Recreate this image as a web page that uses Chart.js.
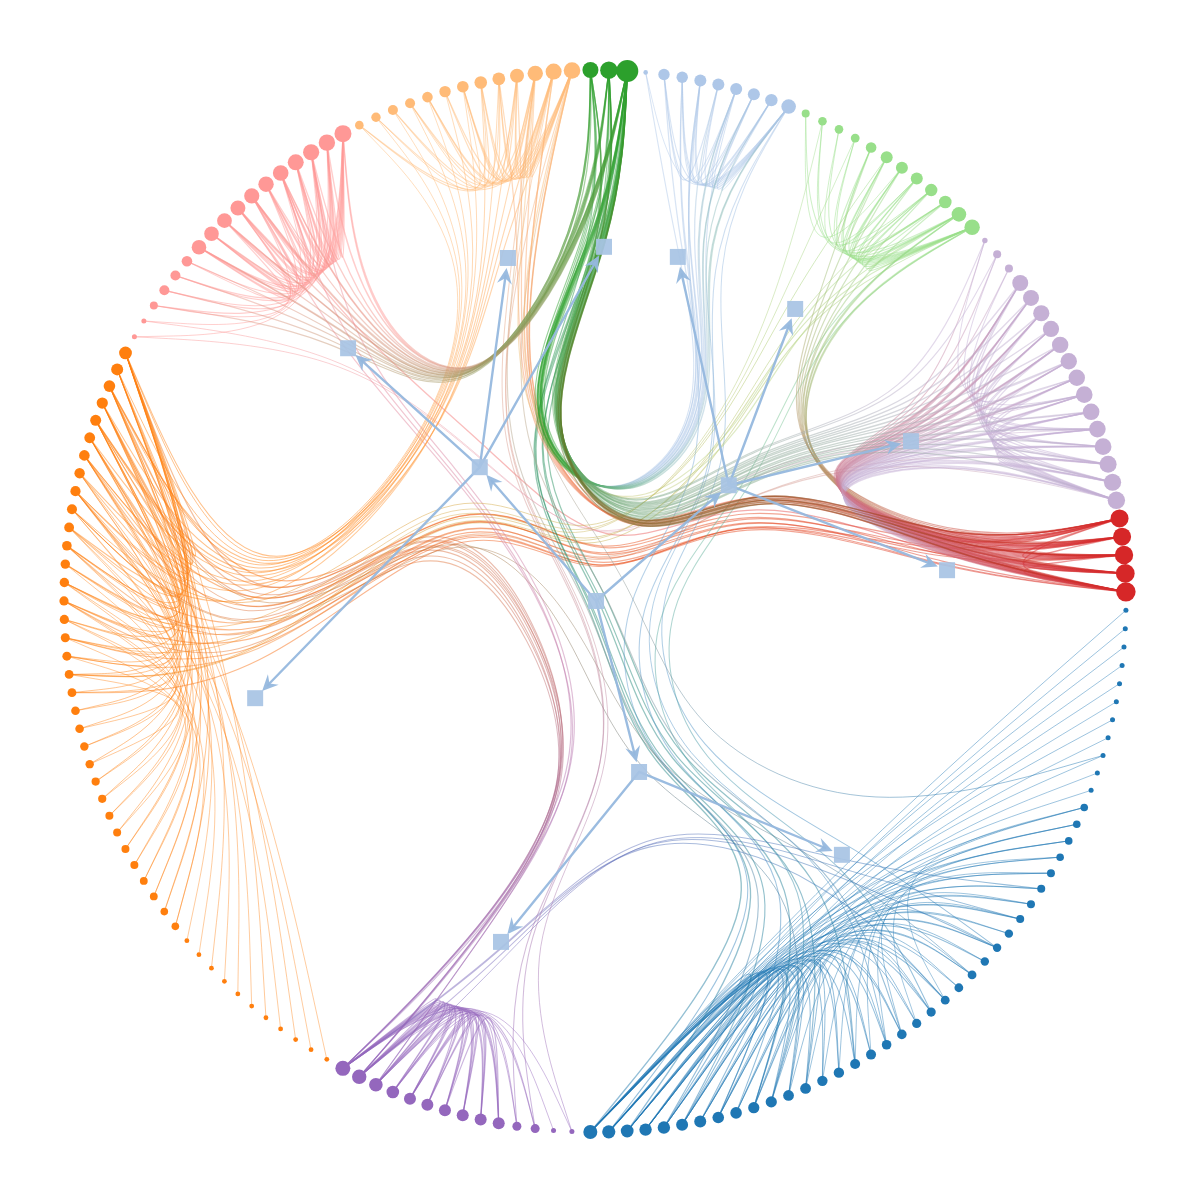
<!DOCTYPE html>
<html><head><meta charset="utf-8">
<script src="https://cdn.jsdelivr.net/npm/chart.js@4.4.1/dist/chart.umd.min.js"></script>
<style>html,body{margin:0;padding:0;background:#fff}#wrap{width:1196px;height:1200px}</style>
</head><body><div id="wrap"><canvas id="c" width="1196" height="1200"></canvas></div>
<script>
// ---------- groups (clockwise from angle ~1deg) ----------
const groupNames  = ['blue','purple','orange','pink','lightorange','green','lightblue','lightgreen','lightpurple','red'];
const groupColors = ['#1f77b4','#9467bd','#ff7f0e','#ff9896','#ffbb78','#2ca02c','#aec7e8','#98df8a','#c5b0d5','#d62728'];
// node sizes (radius, px) in clockwise order within each group
const sizesBlue = [2.5,2.5,2.5,2.5,2.5,2.5,2.5,2.5,2.5,2.5,2.5,3.8,3.8,3.8,3.8,4,4,4,4,4.2,4.2,4.2,4.4,4.4,4.4,4.6,4.6,4.8,4.8,5,5,5.2,5.2,5.4,5.4,5.6,5.6,5.8,5.8,6,6,6.2,6.2,6.4,6.6,7];
const sizesPurple = [2.5,2.5,4.5,4.5,6,6,6,6,6,6,6.3,6.8,7.2,7.5];
const sizesOrange = [2.4,2.4,2.4,2.4,2.4,2.4,2.4,2.4,2.4,2.4,2.4,3.8,3.8,3.9,3.9,4,4,4,4,4.1,4.1,4.2,4.2,4.3,4.3,4.4,4.4,4.5,4.5,4.6,4.6,4.7,4.7,4.8,4.9,5,5.1,5.2,5.3,5.4,5.5,5.6,5.8,6,6.4];
const sizesPink = [2.5,2.5,4,5,5,5.3,7.3,7.3,7.4,7.5,7.6,7.7,7.8,8,8.1,8.2,8.5];
const sizesLightOrange = [4.3,4.7,5,5,5.3,5.7,5.8,6.3,6.4,7,7.7,8,8.3];
const sizesGreen = [8,8.7,11];
const sizesLightBlue = [2.3,5.7,5.7,6,6,6,6,6.2,7.3];
const sizesLightGreen = [4,4.3,4.3,4.4,5.3,6,6,6,6.2,6.3,7.3,7.7];
const sizesLightPurple = [2.7,4,4,8,8,8.1,8.1,8.2,8.2,8.2,8.3,8.3,8.3,8.4,8.5,8.6,8.7];
const sizesRed = [9,9,9.2,9.4,9.7];
const groupSizes = [sizesBlue,sizesPurple,sizesOrange,sizesPink,sizesLightOrange,sizesGreen,sizesLightBlue,sizesLightGreen,sizesLightPurple,sizesRed];
const startAngleDeg = 1.0;

// ---------- hub (square) nodes, unit-circle coordinates, y downward ----------
const hubX = [0.002,-0.217,0.252,0.083,-0.465,-0.164,0.017,-0.640,0.156,0.377,0.595,0.663,0.465,-0.177];
const hubY = [0.000,-0.252,-0.218,0.322,-0.476,-0.646,-0.667,0.183,-0.648,-0.550,-0.301,-0.058,0.478,0.642];
const hubParent = [-1,0,0,0,1,1,1,1,2,2,2,2,3,3];
const groupHub = [12,13,7,4,5,6,8,9,10,11];

// ---------- links (local node indices) ----------
const linksBlue = [[0,45],[1,44],[2,45],[3,43],[4,44],[5,42],[6,45],[7,41],[8,43],[9,40],[10,44],
 [11,45],[11,39],[12,44],[12,38],[13,45],[13,42],[14,43],[14,37],[15,45],[15,41],[16,44],[16,40],[17,42],[17,36],[18,45],[18,39],[19,43],[19,38],[20,44],[20,41],[21,45],[21,37],[22,42],[22,40],[23,43],[23,36],[24,45],[24,39],[25,44],[25,38],[26,41],[26,35],[27,45],[27,42],[28,43],[28,37],[29,44],[29,40],[30,45],[30,36],[31,42],[31,39],[32,43],[32,38],[33,44],[33,35],[34,45],[34,41],
 [12,30],[15,28],[18,33],[20,27],[22,31],[25,34],[14,26],[17,29],[11,24],[13,32],
 [35,45],[36,44],[37,43],[38,45],[39,42],[40,44],[41,45],[35,40],[36,42]];
const linksPurple = [[0,12],[1,13],[2,11],[2,13],[3,12],[3,10],[4,13],[4,11],[4,9],[5,12],[5,10],[5,8],[6,13],[6,11],[6,9],[7,12],[7,10],[7,13],[8,11],[8,13],[9,12],[9,13],[10,13],[10,12],[11,13],[11,12],[12,13],[4,7],[5,9],[6,8],[7,9],[8,10],[9,11],[4,12],[5,13],[6,12]];
const linksOrange = [[0,40],[1,38],[2,42],[3,36],[4,44],[5,39],[6,41],[7,37],[8,43],[9,35],[10,40],
 [11,30],[11,42],[12,28],[12,44],[13,33],[13,40],[14,31],[14,43],[15,29],[15,38],[16,34],[16,44],[17,27],[17,41],[18,32],[18,39],[19,30],[19,43],[20,35],[20,42],[21,26],[21,44],[22,37],[22,33],[23,40],[23,29],[24,43],[24,36],[25,41],[25,31],[26,44],[26,38],[27,39],[27,34],[28,42],[28,36],[29,44],[30,40],[31,43],[32,37],[33,41],[34,44],[35,42],[36,39],[37,43],[38,44],[39,41],[40,44],[41,43],[42,44],[30,36],[31,38],[32,40],[33,44],[34,39],[35,41]];
const linksPink = [[0,14],[1,12],[2,16],[2,10],[3,15],[3,11],[4,13],[4,16],[5,14],[5,9],[6,16],[6,12],[6,14],[7,15],[7,11],[7,13],[8,16],[8,14],[8,10],[9,15],[9,12],[9,16],[10,13],[10,15],[10,16],[11,14],[11,16],[12,15],[12,16],[13,16],[13,15],[14,16],[15,16],[6,9],[7,10],[8,12],[9,11],[11,13],[12,14],[13,14],[14,15],[6,8],[7,9]];
const linksLightOrange = [[0,9],[0,12],[1,10],[1,7],[2,11],[2,8],[3,12],[3,9],[4,10],[4,11],[5,12],[5,8],[6,11],[6,9],[7,12],[7,10],[8,11],[8,12],[9,12],[10,12],[11,12],[9,11],[10,11],[6,10],[4,7],[3,6]];
const linksLightBlue = [[0,8],[1,8],[1,5],[2,8],[2,6],[3,8],[3,7],[4,8],[4,6],[5,8],[5,7],[6,8],[7,8],[1,4],[2,7],[3,5],[6,7]];
const linksLightGreen = [[0,11],[0,6],[1,10],[1,8],[2,11],[2,7],[3,9],[3,11],[4,10],[4,11],[5,11],[5,9],[6,10],[6,11],[7,11],[7,10],[8,11],[8,10],[9,11],[10,11],[5,8],[6,9],[4,7]];
const linksLightPurple = [[0,10],[1,12],[2,14],[3,16],[3,12],[4,15],[4,10],[5,16],[5,13],[6,14],[6,11],[7,16],[7,12],[8,15],[8,13],[9,16],[9,14],[10,15],[10,16],[11,14],[11,16],[12,15],[12,16],[13,16],[14,16],[15,16],[3,8],[4,9],[5,10],[6,12],[7,13]];
const linksRed = [[0,4],[1,3],[0,2],[2,4]];
const linksPinkGreen = [[2,2],[3,1],[4,2],[5,0],[6,2],[7,1],[8,2],[9,0],[10,2],[11,1],[12,2],[13,2],[14,1],[15,2],[16,0],[16,2],[12,1],[10,0],[8,1],[6,0]];
const linksGreenLightPurple = [[2,3],[2,4],[2,5],[1,6],[2,7],[2,8],[0,9],[2,10],[1,11],[2,12],[2,13],[0,14],[2,15],[1,16],[2,0],[1,1]];
const linksGreenRed = [[2,0],[2,1],[1,2],[2,3],[0,4],[2,4],[1,0],[2,2]];
const linksLightBlueGreen = [[0,2],[1,2],[2,2],[3,1],[4,2],[5,0],[6,2],[7,1],[8,2],[8,0],[5,2],[3,2],[6,1],[2,0]];
const linksLightOrangeOrange = [[0,44],[1,42],[2,40],[3,43],[4,38],[5,41],[6,36],[7,44],[8,39],[9,42],[10,34],[11,37],[12,40]];
const linksLightOrangeRed = [[8,0],[9,1],[10,2],[11,3],[12,4],[12,0],[11,2]];
const linksLightOrangeLightGreen = [[10,9],[12,11]];
const linksLightGreenRed = [[4,0],[5,1],[6,2],[7,3],[8,4],[9,0],[10,1],[11,2],[11,4],[10,3]];
const linksLightGreenOrange = [[1,28],[3,31],[5,35],[8,26]];
const linksLightPurpleRed = [[3,0],[3,2],[3,4],[4,1],[4,3],[4,4],[5,0],[5,2],[5,4],[6,1],[6,3],[6,4],[7,0],[7,2],[7,4],[8,1],[8,3],[8,4],[9,0],[9,2],[9,4],[10,1],[10,3],[10,4],[11,0],[11,2],[11,4],[12,1],[12,3],[12,4],[13,0],[13,2],[13,4],[14,1],[14,3],[14,4],[15,0],[15,2],[15,4],[16,1],[16,3],[16,4],[0,4],[1,3],[2,2],[3,1],[5,3],[7,1],[9,3],[11,3]];
const linksRedOrange = [[0,40],[1,36],[2,33],[3,42],[4,38],[4,30]];
const linksRedPink = [[4,10]];
const linksOrangePurple = [[30,13],[33,12],[36,13],[39,11],[41,13],[42,12],[44,13],[38,12]];
const linksOrangeRed = [[25,0],[28,2],[32,4]];
const linksOrangeLightPurple = [[27,14],[31,16]];
const linksOrangeLightGreen = [[29,10],[26,11]];
const linksBlueGreen = [[30,2],[33,1],[36,2],[40,0],[43,2],[45,2]];
const linksBlueLightBlue = [[20,8],[28,5],[38,8],[44,3]];
const linksBlueLightGreen = [[25,11],[35,10]];
const linksBlueLightOrange = [[27,12],[41,10],[8,12]];
const linksBlueOrange = [[22,35],[34,40]];
const linksPurpleBlue = [[12,20],[13,24],[11,18],[13,16]];
const linksPurplePink = [[13,12],[12,14],[11,10]];
const linksPurpleLightOrange = [[2,10],[3,12],[0,11]];
const linksPinkLightPurple = [[0,10],[1,12]];

// [source group, target group, links]
const bundles = [
 [0,0,linksBlue],[1,1,linksPurple],[2,2,linksOrange],[3,3,linksPink],[4,4,linksLightOrange],
 [6,6,linksLightBlue],[7,7,linksLightGreen],[8,8,linksLightPurple],[9,9,linksRed],
 [2,1,linksOrangePurple],[2,9,linksOrangeRed],[2,8,linksOrangeLightPurple],[2,7,linksOrangeLightGreen],
 [9,2,linksRedOrange],[9,3,linksRedPink],
 [0,5,linksBlueGreen],[0,6,linksBlueLightBlue],[0,7,linksBlueLightGreen],[0,4,linksBlueLightOrange],[0,2,linksBlueOrange],
 [1,0,linksPurpleBlue],[1,3,linksPurplePink],[1,4,linksPurpleLightOrange],[3,8,linksPinkLightPurple],
 [4,2,linksLightOrangeOrange],[4,9,linksLightOrangeRed],[4,7,linksLightOrangeLightGreen],
 [7,9,linksLightGreenRed],[7,2,linksLightGreenOrange],
 [6,5,linksLightBlueGreen],[3,5,linksPinkGreen],
 [8,9,linksLightPurpleRed],[5,8,linksGreenLightPurple],[5,9,linksGreenRed]
];

// ---------- layout helpers ----------
const nTotal = groupSizes.reduce((a,s)=>a+s.length,0);
const groupOffset = []; { let o=0; for (const s of groupSizes){ groupOffset.push(o); o+=s.length; } }
function nodeUnit(g,i){
  const a = (startAngleDeg + (groupOffset[g]+i)*360/nTotal)*Math.PI/180;
  return {x:Math.cos(a), y:Math.sin(a)};
}
function ancestors(h){ const r=[h]; while(hubParent[r[r.length-1]]>=0) r.push(hubParent[r[r.length-1]]); return r; }
function hubPath(a,b){
  if (a===b) return [a];
  const A=ancestors(a), B=ancestors(b);
  let lca = A.find(h=>B.includes(h));
  const up = A.slice(0, A.indexOf(lca)+1);
  const down = B.slice(0, B.indexOf(lca)).reverse();
  return up.concat(down);
}
function rgba(hex,a){ const n=parseInt(hex.slice(1),16); return `rgba(${n>>16},${(n>>8)&255},${n&255},${a})`; }

const BETA = 0.85;
function traceBundle(ctx, pts){
  const n = pts.length-1;
  const x0=pts[0][0], y0=pts[0][1], dx=pts[n][0]-x0, dy=pts[n][1]-y0;
  const q = pts.map((p,i)=>{ const t=i/n; return [BETA*p[0]+(1-BETA)*(x0+t*dx), BETA*p[1]+(1-BETA)*(y0+t*dy)]; });
  ctx.beginPath();
  ctx.moveTo(q[0][0],q[0][1]);
  ctx.lineTo((5*q[0][0]+q[1][0])/6,(5*q[0][1]+q[1][1])/6);
  for (let k=2;k<q.length;k++){
    const a=q[k-2], b=q[k-1], c=q[k];
    ctx.bezierCurveTo((2*a[0]+b[0])/3,(2*a[1]+b[1])/3,(a[0]+2*b[0])/3,(a[1]+2*b[1])/3,(a[0]+4*b[0]+c[0])/6,(a[1]+4*b[1]+c[1])/6);
  }
  const a=q[n-1], b=q[n];
  ctx.bezierCurveTo((2*a[0]+b[0])/3,(2*a[1]+b[1])/3,(a[0]+2*b[0])/3,(a[1]+2*b[1])/3,(a[0]+5*b[0])/6,(a[1]+5*b[1])/6);
  ctx.lineTo(b[0],b[1]);
}

const HUB_DS = 0;
const edgePlugin = {
  id:'edgeBundles',
  beforeDatasetsDraw(chart){
    const ctx = chart.ctx;
    const hubMeta = chart.getDatasetMeta(HUB_DS).data;
    const nodeEl = (g,i)=>chart.getDatasetMeta(g+1).data[i];
    ctx.save();
    ctx.lineCap='round';
    for (const [gs,gt,links] of bundles){
      const path = hubPath(groupHub[gs], groupHub[gt]);
      for (const [i,j] of links){
        const s=nodeEl(gs,i), t=nodeEl(gt,j);
        const pts=[[s.x,s.y]].concat(path.map(h=>[hubMeta[h].x,hubMeta[h].y]),[[t.x,t.y]]);
        const alpha = 0.48;
        if (gs===gt) ctx.strokeStyle = rgba(groupColors[gs],alpha);
        else {
          const gr = ctx.createLinearGradient(s.x,s.y,t.x,t.y);
          gr.addColorStop(0,rgba(groupColors[gs],alpha));
          gr.addColorStop(1,rgba(groupColors[gt],alpha));
          ctx.strokeStyle = gr;
        }
        ctx.lineWidth = 0.45 + 0.05*(groupSizes[gs][i]+groupSizes[gt][j]);
        traceBundle(ctx, pts);
        ctx.stroke();
      }
    }
    // arrows between hubs (parent -> child)
    const col = 'rgba(150,184,222,0.95)';
    ctx.strokeStyle = col; ctx.fillStyle = col; ctx.lineWidth = 2.4;
    for (let h=0; h<hubParent.length; h++){
      const p = hubParent[h]; if (p<0) continue;
      const A=hubMeta[p], B=hubMeta[h];
      const dx=B.x-A.x, dy=B.y-A.y, L=Math.hypot(dx,dy), ux=dx/L, uy=dy/L;
      const tipX=B.x-ux*10, tipY=B.y-uy*10;
      ctx.beginPath(); ctx.moveTo(A.x,A.y); ctx.lineTo(tipX-ux*8,tipY-uy*8); ctx.stroke();
      const bx=tipX-ux*16, by=tipY-uy*16, nx=-uy, ny=ux;
      ctx.beginPath();
      ctx.moveTo(tipX,tipY);
      ctx.lineTo(bx+nx*7.5,by+ny*7.5);
      ctx.lineTo(tipX-ux*10.5,tipY-uy*10.5);
      ctx.lineTo(bx-nx*7.5,by-ny*7.5);
      ctx.closePath(); ctx.fill();
    }
    ctx.restore();
  }
};

const R=531, CX=595, CY=601, W=1196, H=1200;
const datasets = [{
  label:'hubs', data: hubX.map((x,i)=>({x, y:hubY[i]})),
  pointStyle:'rect', pointRadius:11.3, pointBackgroundColor:'rgba(168,196,228,0.93)', pointBorderWidth:0, order:0, showLine:false
}];
groupSizes.forEach((sz,g)=>{
  datasets.push({
    label: groupNames[g],
    data: sz.map((_,i)=>nodeUnit(g,i)),
    pointRadius: sz, pointBackgroundColor: groupColors[g], pointBorderWidth:0, order:1, showLine:false
  });
});

new Chart(document.getElementById('c'), {
  type:'scatter',
  data:{datasets},
  options:{
    responsive:false, animation:false, events:[], devicePixelRatio:1,
    layout:{padding:0, autoPadding:false},
    scales:{
      x:{type:'linear', display:false, min:-CX/R, max:(W-CX)/R},
      y:{type:'linear', display:false, reverse:true, min:-CY/R, max:(H-CY)/R}
    },
    plugins:{legend:{display:false}, tooltip:{enabled:false}},
    elements:{point:{hoverRadius:0}}
  },
  plugins:[edgePlugin]
});
</script></body></html>
